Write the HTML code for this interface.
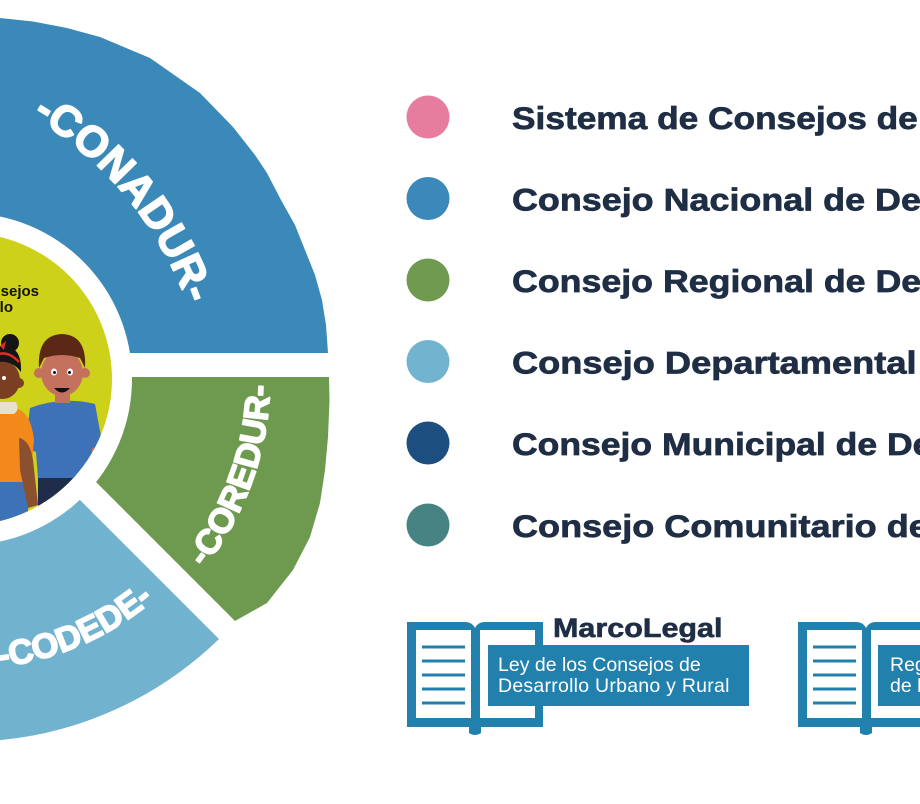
<!DOCTYPE html>
<html>
<head>
<meta charset="utf-8">
<style>
  html,body{margin:0;padding:0;background:#ffffff;}
  body{width:920px;height:804px;overflow:hidden;}
  svg{display:block;}
  .lg{font-family:"Liberation Sans",Arial,sans-serif;font-weight:bold;font-size:31.5px;fill:#1f2e45;stroke:#1f2e45;stroke-width:0.7px;}
  .ring{font-family:"Liberation Sans",Arial,sans-serif;font-weight:bold;fill:#ffffff;stroke:#ffffff;stroke-width:1.6px;stroke-linejoin:round;}
  .box{font-family:"Liberation Sans",Arial,sans-serif;font-size:19.5px;fill:#ffffff;}
</style>
</head>
<body>
<svg width="920" height="804" viewBox="0 0 920 804" xmlns="http://www.w3.org/2000/svg">
  <defs>
    <clipPath id="yc"><circle cx="-34" cy="379" r="146"/></clipPath>
    <path id="pConadur" d="M -86.8 71.9 A 361 361 0 0 1 209 429.5" fill="none"/>
    <path id="pCoredur" d="M 118.9 641.7 A 304 304 0 0 0 251.3 274" fill="none"/>
    <path id="pCodede" d="M -116.4 657.1 A 290 290 0 0 0 225.5 508.4" fill="none"/>
  </defs>

  <!-- Donut segments -->
  <path fill="#3a89b9" d="M -60 353 L -60 19 L 0 18 L 33 21.5 L 67 28 L 100 37 L 150 58 L 200 93 L 233 127 L 255 155 L 267 173 L 281 200 L 295 225 L 305 250 L 315 275 L 322 300 L 326 325 L 328 353 Z"/>
  <path fill="#6e9a4f" d="M -9 377 L 329 377 L 329.5 400 L 328 437 L 325 470 L 320 503 L 310 537 L 293 570 L 267 603 L 235 621 Z"/>
  <path fill="#71b2ce" d="M -41 379 L 219 639 A 363 363 0 0 1 -397 379 Z"/>

  <circle cx="-34" cy="379" r="166" fill="#ffffff"/>
  <circle cx="-34" cy="379" r="146" fill="#cdd11a"/>

  <!-- Center illustration -->
  <g clip-path="url(#yc)">
    <text x="39" y="296" text-anchor="end" font-family="Liberation Sans, Arial, sans-serif" font-weight="bold" font-size="15" fill="#111111">Sistema de Consejos</text>
    <text x="13" y="312" text-anchor="end" font-family="Liberation Sans, Arial, sans-serif" font-weight="bold" font-size="15" fill="#111111">de Desarrollo</text>

    <!-- Boy -->
    <rect x="38" y="474" width="48" height="40" fill="#1f2d4b"/>
    <path d="M 30 408 Q 62 396 95 404 L 103 447 L 92 450 L 90 478 L 38 478 L 36 452 L 25 448 Z" fill="#3d72b8"/>
    <path d="M 92 448 L 101 446 L 100 478 L 93 478 Z" fill="#c4715e"/>
    <rect x="55" y="390" width="15" height="13" fill="#c4715e"/>
    <circle cx="39" cy="373" r="5" fill="#c4715e"/>
    <circle cx="85" cy="373" r="5" fill="#c4715e"/>
    <ellipse cx="62" cy="373" rx="21" ry="23" fill="#c4715e"/>
    <path d="M 39 368 Q 37 335 62 334 Q 87 335 85 368 L 80 358 Q 62 352 44 358 Z" fill="#5b2816"/>
    <ellipse cx="54" cy="372" rx="3" ry="3.5" fill="#ffffff"/>
    <ellipse cx="70" cy="372" rx="3" ry="3.5" fill="#ffffff"/>
    <circle cx="54.5" cy="372.5" r="1.5" fill="#111"/>
    <circle cx="69.5" cy="372.5" r="1.5" fill="#111"/>
    <path d="M 54 388 Q 62 397 70 388 Z" fill="#111111"/>

    <!-- Girl -->
    <rect x="-12" y="478" width="40" height="50" fill="#3d72b8"/>
    <path d="M -12 412 L 18 409 Q 31 414 34 440 L 30 482 L -12 482 Z" fill="#f4891b"/>
    <path d="M -12 402 L 16 402 Q 20 410 14 414 L -12 414 Z" fill="#e8e0c8"/>
    <path d="M 19 438 Q 30 440 33 460 L 38 505 L 28 508 L 20 470 Z" fill="#8b5030"/>
    <circle cx="19" cy="383" r="5" fill="#7a3f22"/>
    <ellipse cx="3" cy="380" rx="17" ry="19" fill="#7a3f22"/>
    <path d="M -16 372 Q -14 344 6 346 Q 22 348 21 372 Q 12 360 -2 362 Z" fill="#151515"/>
    <circle cx="10" cy="343" r="9" fill="#151515"/>
    <path d="M -12 360 Q 4 346 19 362" stroke="#e02a2a" stroke-width="2.5" fill="none"/>
    <path d="M 0 346 L 6 341 L 4 350 Z" fill="#e02a2a"/>
    <circle cx="4" cy="378" r="2" fill="#ffffff"/>
  </g>

  <!-- Ring labels -->
  <text class="ring" font-size="43"><textPath href="#pConadur" startOffset="50%" text-anchor="middle">-CONADUR-</textPath></text>
  <text class="ring" font-size="34.5"><textPath href="#pCoredur" startOffset="50%" text-anchor="middle">-COREDUR-</textPath></text>
  <text class="ring" font-size="34.5"><textPath href="#pCodede" startOffset="50%" text-anchor="middle">-CODEDE-</textPath></text>

  <!-- Legend -->
  <circle cx="428" cy="117" r="21.5" fill="#e67c9e"/>
  <circle cx="428" cy="198.5" r="21.5" fill="#3a89ba"/>
  <circle cx="428" cy="280" r="21.5" fill="#6f9a4f"/>
  <circle cx="428" cy="361.5" r="21.5" fill="#72b3cf"/>
  <circle cx="428" cy="443" r="21.5" fill="#1c4f7f"/>
  <circle cx="428" cy="525" r="21.5" fill="#488384"/>

  <g transform="translate(512,129) scale(1.12,1)"><text class="lg" x="0" y="0">Sistema de Consejos de Desarrollo</text></g>
  <g transform="translate(512,210.5) scale(1.14,1)"><text class="lg" x="0" y="0">Consejo Nacional de Desarrollo Urbano y Rural</text></g>
  <g transform="translate(512,292) scale(1.135,1)"><text class="lg" x="0" y="0">Consejo Regional de Desarrollo Urbano y Rural</text></g>
  <g transform="translate(512,373.5) scale(1.15,1)"><text class="lg" x="0" y="0">Consejo Departamental de Desarrollo</text></g>
  <g transform="translate(512,455) scale(1.128,1)"><text class="lg" x="0" y="0">Consejo Municipal de Desarrollo</text></g>
  <g transform="translate(512,537) scale(1.145,1)"><text class="lg" x="0" y="0">Consejo Comunitario de Desarrollo</text></g>

  <!-- Book 1 -->
  <g>
    <path fill="#2280ad" d="M 407 622 L 465 622 Q 472 622 475 628 Q 478 622 485 622 L 543 622 L 543 727 L 481 727 L 481 733 Q 475 737 469 733 L 469 727 L 407 727 Z"/>
    <rect x="416" y="630" width="55" height="88" fill="#ffffff"/>
    <rect x="480" y="630" width="55" height="88" fill="#ffffff"/>
    <g fill="#2280ad">
      <rect x="422" y="645.5" width="43" height="3"/>
      <rect x="422" y="659.5" width="43" height="3"/>
      <rect x="422" y="673.5" width="43" height="3"/>
      <rect x="422" y="687.5" width="43" height="3"/>
      <rect x="422" y="701.5" width="43" height="3"/>
    </g>
    <rect x="488" y="645" width="261" height="61" fill="#2280ad"/>
    <g transform="translate(553,637) scale(1.13,1)">
      <text x="0" y="0" font-family="Liberation Sans, Arial, sans-serif" font-weight="bold" font-size="27" fill="#1f2e45" stroke="#1f2e45" stroke-width="0.6">MarcoLegal</text>
    </g>
    <text class="box" x="498" y="671">Ley de los Consejos de</text>
    <text class="box" x="498" y="692" letter-spacing="0.25">Desarrollo Urbano y Rural</text>
  </g>

  <!-- Book 2 -->
  <g transform="translate(391,0)">
    <path fill="#2280ad" d="M 407 622 L 465 622 Q 472 622 475 628 Q 478 622 485 622 L 543 622 L 543 727 L 481 727 L 481 733 Q 475 737 469 733 L 469 727 L 407 727 Z"/>
    <rect x="416" y="630" width="55" height="88" fill="#ffffff"/>
    <rect x="480" y="630" width="55" height="88" fill="#ffffff"/>
    <g fill="#2280ad">
      <rect x="422" y="645.5" width="43" height="3"/>
      <rect x="422" y="659.5" width="43" height="3"/>
      <rect x="422" y="673.5" width="43" height="3"/>
      <rect x="422" y="687.5" width="43" height="3"/>
      <rect x="422" y="701.5" width="43" height="3"/>
    </g>
    <rect x="487" y="645" width="200" height="61" fill="#2280ad"/>
    <text class="box" x="499" y="671">Reglamento de la Ley</text>
    <text class="box" x="499" y="692">de los Consejos</text>
  </g>
</svg>
</body>
</html>
